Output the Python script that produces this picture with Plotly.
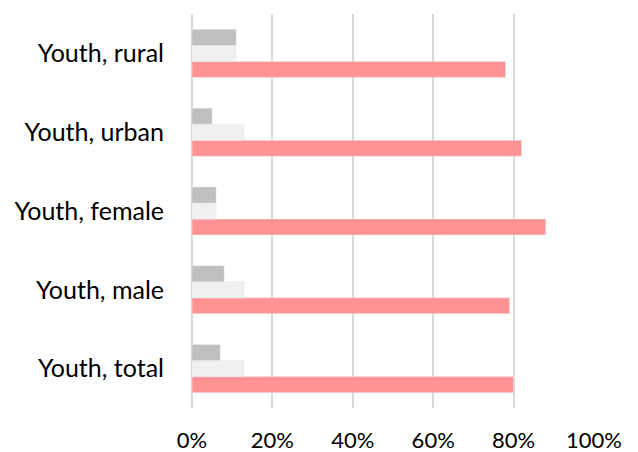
import plotly.graph_objects as go

categories = ["Youth, total", "Youth, male", "Youth, female", "Youth, urban", "Youth, rural"]
series_pink = [0.80, 0.79, 0.88, 0.82, 0.78]
series_light = [0.13, 0.13, 0.06, 0.13, 0.11]
series_gray = [0.07, 0.08, 0.06, 0.05, 0.11]

fig = go.Figure()
fig.add_trace(go.Bar(y=categories, x=series_pink, orientation="h", marker_color="#ff9393", name="A"))
fig.add_trace(go.Bar(y=categories, x=series_light, orientation="h", marker_color="#f0f0f0", name="B"))
fig.add_trace(go.Bar(y=categories, x=series_gray, orientation="h", marker_color="#bfbfbf", name="C"))

fig.update_layout(
    width=638, height=452,
    margin=dict(l=192, r=44, t=14, b=44),
    barmode="group", bargap=0.39, bargroupgap=0,
    showlegend=False,
    plot_bgcolor="white", paper_bgcolor="white",
    font=dict(family="Lato, Open Sans, sans-serif", size=22, color="#000000"),
)
fig.update_xaxes(
    range=[0, 1], tickvals=[0, 0.2, 0.4, 0.6, 0.8, 1.0],
    ticktext=["0%", "20%", "40%", "60%", "80%", "100%"],
    showgrid=True, gridcolor="#d9d9d9", gridwidth=2,
    zeroline=True, zerolinecolor="#d9d9d9", zerolinewidth=2,
    ticks="outside", ticklen=13, tickcolor="rgba(0,0,0,0)",
    tickfont=dict(size=22), automargin=False,
)
fig.update_yaxes(
    showgrid=False, ticks="outside", ticklen=22, tickcolor="rgba(0,0,0,0)",
    tickfont=dict(size=25), automargin=False,
)
fig.write_html("out.html")
